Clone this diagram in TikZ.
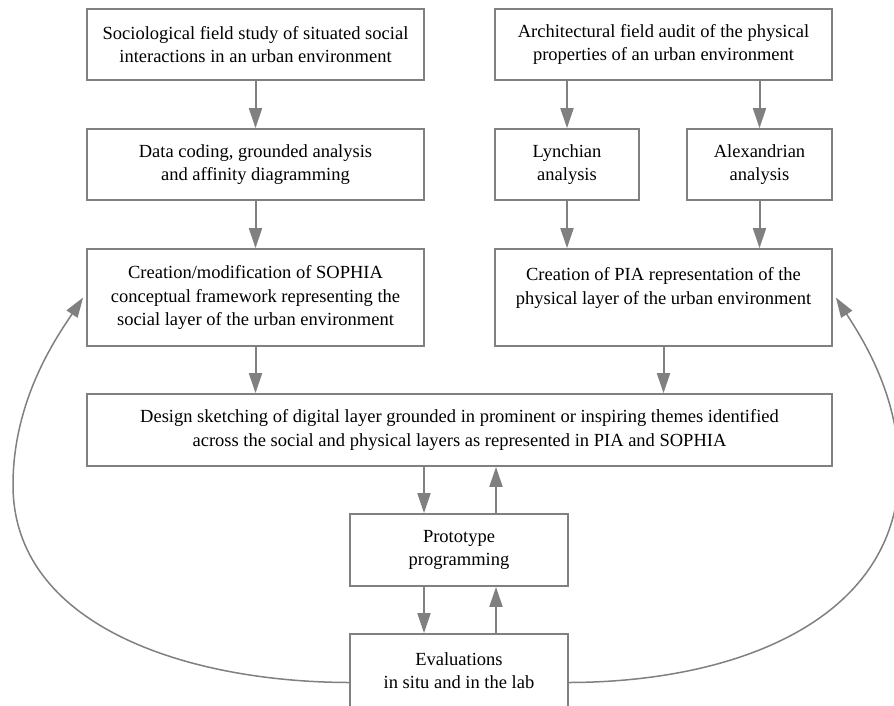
\documentclass[tikz,border=0pt]{standalone}
\usepackage{fontspec}
\setmainfont{Liberation Serif}
\usetikzlibrary{arrows.meta}
\definecolor{lgray}{HTML}{808080}
\tikzset{
  box/.style={draw=lgray, line width=1.8pt, fill=white, inner sep=0pt, align=center,
    font=\fontsize{18.5}{23.5}\selectfont, text=black},
  arr/.style={draw=lgray, line width=2pt, -{Triangle[length=20pt,width=13pt]}},
  loop/.style={draw=lgray, line width=1.5pt, -{Triangle[length=20pt,width=13pt]}}
}
\begin{document}
\begin{tikzpicture}[x=1pt,y=-1pt]
\useasboundingbox (0,0) rectangle (894,705);
\clip (0,0) rectangle (894,705);
\fill[white] (0,0) rectangle (894,705);
% left column
\node[box, minimum width=337pt, minimum height=71pt] (A) at (255.5,44.5)
  {Sociological field study of situated social\\interactions in an urban environment};
\node[box, minimum width=337pt, minimum height=71pt] (B) at (255.5,164.5)
  {Data coding, grounded analysis\\and affinity diagramming};
\node[box, minimum width=337pt, minimum height=97pt] (C) at (255.5,297.5)
  {Creation/modification of SOPHIA\\conceptual framework representing the\\social layer of the urban environment};
% right column
\node[box, minimum width=337pt, minimum height=71pt] (D) at (663.5,44.5)
  {Architectural field audit of the physical\\properties of an urban environment};
\node[box, minimum width=144pt, minimum height=71pt] (E) at (567,164.5)
  {Lynchian\\analysis};
\node[box, minimum width=145pt, minimum height=71pt] (F) at (759.5,164.5)
  {Alexandrian\\analysis};
\node[box, minimum width=337pt, minimum height=97pt] (G) at (663.5,297.5)
  {Creation of PIA representation of the\\physical layer of the urban environment\\~};
% lower part
\node[box, minimum width=745pt, minimum height=72pt] (H) at (459.5,430)
  {Design sketching of digital layer grounded in prominent or inspiring themes identified\\across the social and physical layers as represented in PIA and SOPHIA};
\node[box, minimum width=218pt, minimum height=72pt] (I) at (459,550)
  {Prototype\\programming};
\node[box, minimum width=218pt, minimum height=97pt] (J) at (459,682.5)
  {Evaluations\\in situ and in the lab\\~};
% connectors
\draw[arr] (A.south) -- (B.north);
\draw[arr] (B.south) -- (C.north);
\draw[arr] (C.south) -- (C.south |- H.north);
\draw[arr] (D.south -| E.north) -- (E.north);
\draw[arr] (D.south -| F.north) -- (F.north);
\draw[arr] (E.south) -- (E.south |- G.north);
\draw[arr] (F.south) -- (F.south |- G.north);
\draw[arr] (G.south) -- (G.south |- H.north);
\draw[arr] ([xshift=-35pt]I.north |- H.south) -- ([xshift=-35pt]I.north);
\draw[arr] ([xshift=37pt]I.north) -- ([xshift=37pt]I.north |- H.south);
\draw[arr] ([xshift=-35pt]I.south) -- ([xshift=-35pt]J.north);
\draw[arr] ([xshift=37pt]J.north) -- ([xshift=37pt]I.south);
% feedback loops
\draw[loop] (J.west) .. controls (185,682) and (13,625) .. (13,485)
  .. controls (13,400) and (56,338) .. ([xshift=-3pt]C.west);
\draw[loop] (J.east) .. controls (745,682) and (899,615) .. (899,470)
  .. controls (899,395) and (862,338) .. ([xshift=3pt]G.east);
\end{tikzpicture}
\end{document}
